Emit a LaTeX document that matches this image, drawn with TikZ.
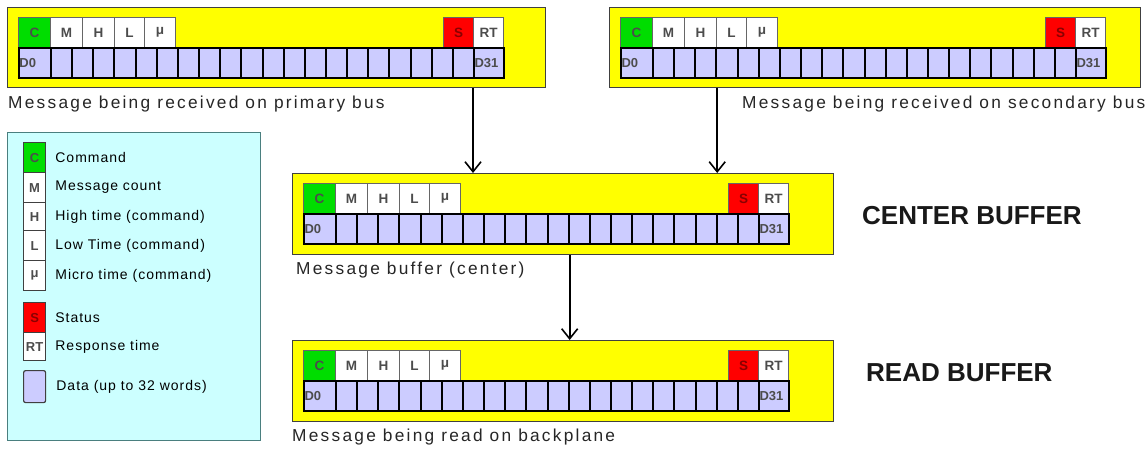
\documentclass[tikz,border=0pt]{standalone}
\usepackage{fontspec}
\setmainfont{Liberation Sans}
\newfontfamily\capfont[LetterSpace=13]{Liberation Sans}
\newfontfamily\legfont[LetterSpace=7]{Liberation Sans}
\usetikzlibrary{arrows.meta}

\definecolor{bufyellow}{HTML}{FFFF00}
\definecolor{cmdgreen}{HTML}{00DD00}
\definecolor{statred}{HTML}{FF0000}
\definecolor{statdark}{HTML}{8A0000}
\definecolor{datablue}{HTML}{CCCCFF}
\definecolor{legfill}{HTML}{CCFFFF}
\definecolor{legdraw}{HTML}{4A7F7F}

\tikzset{
  frame/.style={draw=black!75, fill=bufyellow, line width=1.2pt, anchor=north west, inner sep=0pt},
  topcell/.style={draw=black!60, fill=white, line width=1.2pt, anchor=north west, inner sep=0pt,
    minimum height=30pt, text=black!70, font=\bfseries\fontsize{13.5}{15}\selectfont},
  datacell/.style={draw=black, fill=datablue, line width=2pt, anchor=north west, inner xsep=0.5pt, inner ysep=0pt,
    minimum height=30pt, text=black!70, font=\bfseries\fontsize{13}{15}\selectfont},
  caption/.style={anchor=west, inner sep=0pt, text=black!85, font=\capfont\fontsize{17.3}{20}\selectfont},
  title/.style={anchor=west, inner sep=0pt, text=black!90, font=\bfseries\fontsize{26}{30}\selectfont},
  legendbox/.style={draw=legdraw, fill=legfill, line width=1.4pt, anchor=north west, inner sep=0pt},
  keybox/.style={draw=black!75, fill=white, line width=1.2pt, anchor=north west, inner sep=0pt,
    minimum width=22pt, text=black!70, font=\bfseries\fontsize{13}{15}\selectfont},
  keylabel/.style={anchor=west, inner sep=0pt, text=black, font=\legfont\fontsize{14}{16}\selectfont},
  arr/.style={line width=2pt, -{Straight Barb[length=10pt,width=16pt,line width=1.6pt]}},
}

% One message buffer: frame name, frame left, frame top, frame width, frame height
\newcommand\msgbuffer[5]{%
  \node[frame, minimum width=#4pt, minimum height=#5pt] (#1) at (#2,#3) {};
  \begin{scope}[shift={(#2+11,#3+10)}]
    \node[topcell, fill=cmdgreen, minimum width=32pt] (#1-c) at (0,0) {C};
    \node[topcell, minimum width=32pt] (#1-m) at (32,0) {M};
    \node[topcell, minimum width=32pt] (#1-h) at (64,0) {H};
    \node[topcell, minimum width=30pt] (#1-l) at (96,0) {L};
    \node[topcell, minimum width=31pt] (#1-mu) at (126,0) {μ};
    \node[topcell, fill=statred, text=statdark, minimum width=30pt] (#1-s) at (425,0) {S};
    \node[topcell, minimum width=30pt] (#1-rt) at (455,0) {RT};
    \node[datacell, text width=31pt, align=left] (#1-d0) at (0,30) {D0};
    \foreach \i in {1,...,20}
      \node[datacell, minimum width=21.15pt] (#1-d\i) at ({32+(\i-1)*21.15},30) {};
    \node[datacell, text width=29pt, align=left] (#1-d31) at (455,30) {D31};
  \end{scope}
}

\begin{document}
\begin{tikzpicture}[x=1pt, y=-1pt]
  \fill[white] (0,0) rectangle (1145,448);
  \useasboundingbox (0,0) rectangle (1145,448);

  % the four buffers
  \msgbuffer{prim}{7}{7}{538}{80}
  \msgbuffer{sec}{609}{7}{531}{80}
  \msgbuffer{cent}{292}{173}{541}{81}
  \msgbuffer{read}{292}{340}{541}{81}

  % captions
  \node[caption] (cap-prim) at (8,104) {Message being received on primary bus};
  \node[caption] (cap-sec) at (742,104) {Message being received on secondary bus};
  \node[caption] (cap-cent) at (296,270) {Message buffer (center)};
  \node[caption] (cap-read) at (292,437) {Message being read on backplane};

  \node[title] (t-cent) at (862,216) {CENTER BUFFER};
  \node[title] (t-read) at (866,373) {READ BUFFER};

  % data flow
  \draw[arr] (prim.south -| prim-rt.west) -- (cent.north -| prim-rt.west);
  \draw[arr] (sec.south -| sec-h.east) -- (cent.north -| sec-h.east);
  \draw[arr] (cent.south -| cent-d11.east) -- (read.north -| cent-d11.east);

  % legend
  \node[legendbox, minimum width=253pt, minimum height=308pt] (legend) at (7,132) {};
  \node[keybox, fill=cmdgreen, minimum height=30pt] (key-c) at (23,142) {C};
  \node[keybox, minimum height=30pt] (key-m) at (23,172) {M};
  \node[keybox, minimum height=28pt] (key-h) at (23,202) {H};
  \node[keybox, minimum height=30pt] (key-l) at (23,230) {L};
  \node[keybox, minimum height=30pt] (key-mu) at (23,260) {μ};
  \node[keybox, fill=statred, text=statdark, minimum height=30pt] (key-s) at (23,302) {S};
  \node[keybox, minimum height=28pt] (key-rt) at (23,332) {RT};
  \node[keybox, fill=datablue, rounded corners=2pt, minimum height=32pt] (key-d) at (23,370) {};

  \node[keylabel] (lab-c) at ([xshift=9pt]key-c.east) {Command};
  \node[keylabel] (lab-m) at ([xshift=9pt]key-m.east) {Message count};
  \node[keylabel] (lab-h) at ([xshift=9pt]key-h.east) {High time (command)};
  \node[keylabel] (lab-l) at ([xshift=9pt]key-l.east) {Low Time (command)};
  \node[keylabel] (lab-mu) at ([xshift=9pt]key-mu.east) {Micro time (command)};
  \node[keylabel] (lab-s) at ([xshift=9pt]key-s.east) {Status};
  \node[keylabel] (lab-rt) at ([xshift=9pt]key-rt.east) {Response time};
  \node[keylabel] (lab-d) at ([xshift=10pt]key-d.east) {Data (up to 32 words)};
\end{tikzpicture}
\end{document}
